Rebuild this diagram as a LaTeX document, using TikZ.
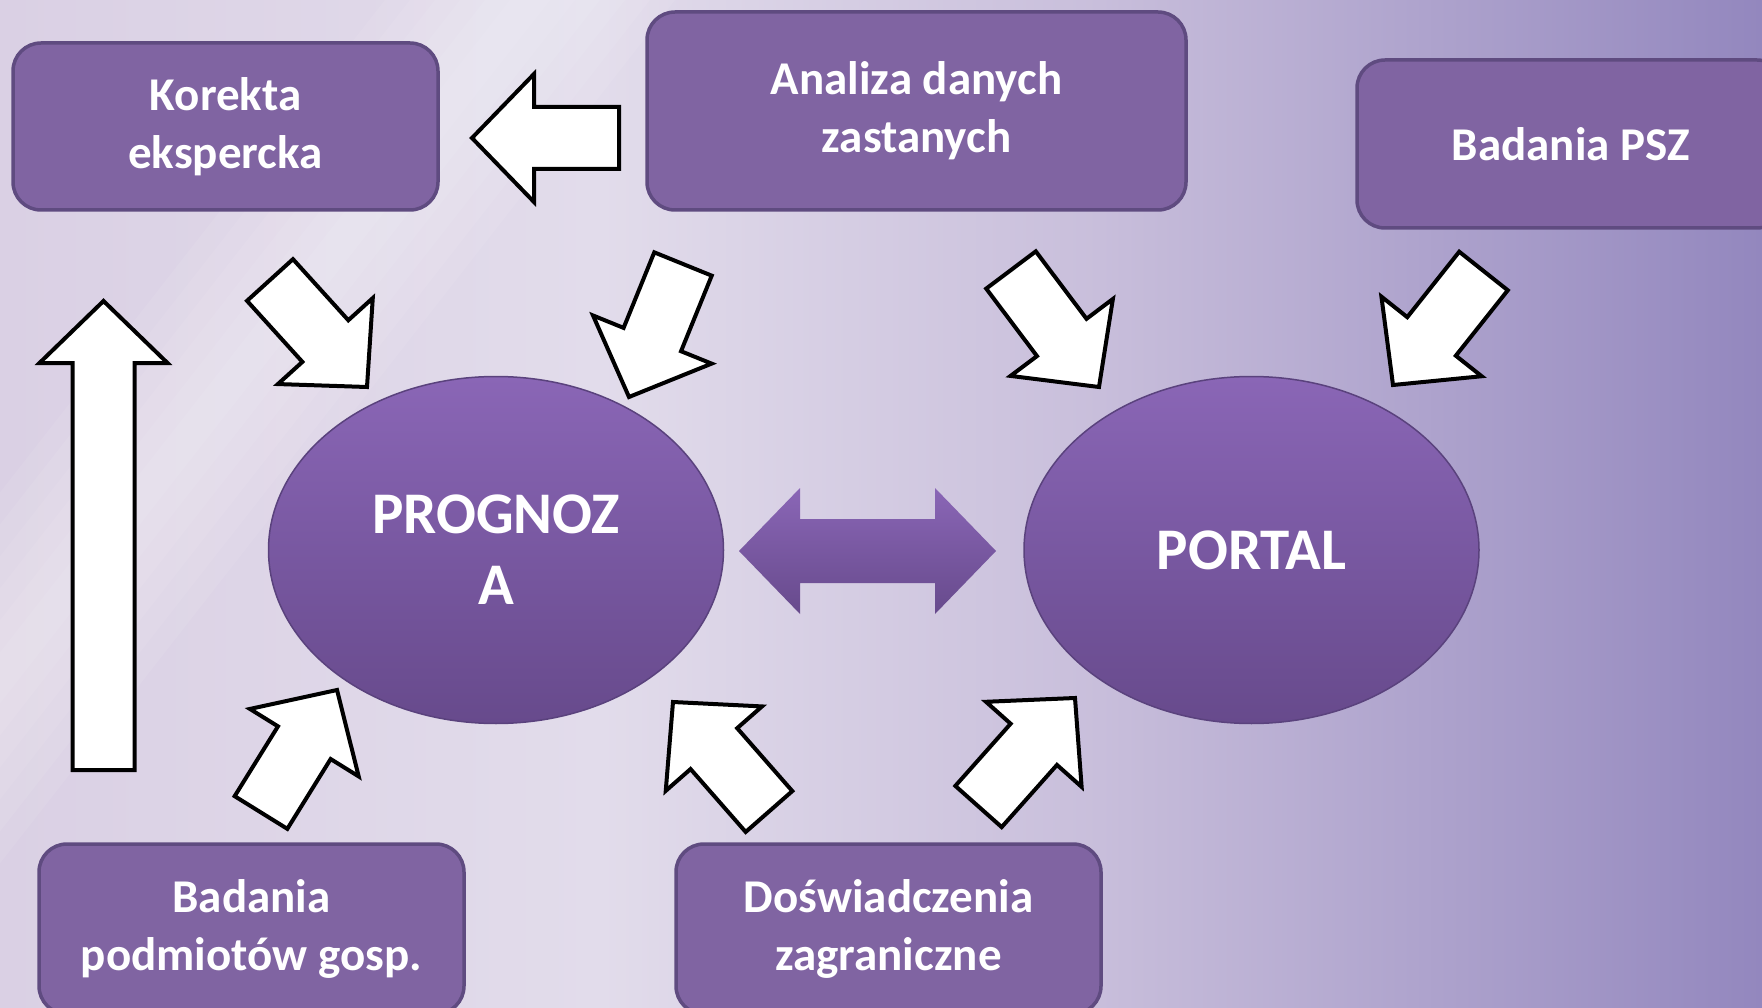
\documentclass[tikz,border=0pt]{standalone}
\usepackage{fontspec}
\setmainfont{Carlito}
\usepackage{tikz}
\usetikzlibrary{shapes.geometric, calc}

\definecolor{boxfill}{HTML}{8064A2}
\definecolor{boxline}{HTML}{5F4B80}
\definecolor{elltop}{HTML}{8A66B6}
\definecolor{ellbot}{HTML}{674A8C}
\definecolor{ellline}{HTML}{5A427D}
\definecolor{bgA}{HTML}{DAD0E4}
\definecolor{bgB}{HTML}{E2DCEB}
\definecolor{bgC}{HTML}{C8BEDB}
\definecolor{bgD}{HTML}{9387BE}

% white block arrow, #1 = tail, #2 = tip
\newcommand{\blockarrow}[2]{%
	\coordinate (headbase) at ($(#2)!62pt!(#1)$);
	\draw [barrow] ($(#1)!31pt!90:(#2)$) -- ($(headbase)!31pt!90:(#2)$) -- ($(headbase)!64pt!90:(#2)$)
		-- (#2) -- ($(headbase)!64pt!-90:(#2)$) -- ($(headbase)!31pt!-90:(#2)$) -- ($(#1)!31pt!-90:(#2)$) -- cycle;}

% purple two-headed arrow between #1 and #2
\newcommand{\dblarrow}[2]{%
	\coordinate (basea) at ($(#1)!61pt!(#2)$);
	\coordinate (baseb) at ($(#2)!61pt!(#1)$);
	\shade [dblarr] (#1) -- ($(basea)!63pt!90:(#2)$) -- ($(basea)!32pt!90:(#2)$) -- ($(baseb)!32pt!-90:(#1)$)
		-- ($(baseb)!63pt!-90:(#1)$) -- (#2) -- ($(baseb)!63pt!90:(#1)$) -- ($(baseb)!32pt!90:(#1)$)
		-- ($(basea)!32pt!-90:(#2)$) -- ($(basea)!63pt!-90:(#2)$) -- cycle;}

\begin{document}
\begin{tikzpicture}[x=1pt, y=-1pt]
	\tikzstyle{box} = [rectangle, rounded corners=28pt, minimum width=425pt, minimum height=167pt, text centered, align=center, draw=boxline, line width=3.5pt, fill=boxfill, text=white, font=\bfseries\fontsize{47}{58}\selectfont]
	\tikzstyle{ellip} = [ellipse, minimum width=455pt, minimum height=347pt, inner sep=0pt, align=center, top color=elltop, bottom color=ellbot, draw=ellline, line width=1.5pt, text=white, font=\bfseries\fontsize{59}{71}\selectfont]
	\tikzstyle{barrow} = [draw=black, line width=4pt, line join=miter, fill=white]
	\tikzstyle{dblarr} = [top color=elltop, bottom color=ellbot]

	% background
	\useasboundingbox (0,0) rectangle (1762,1008);
	\clip (0,0) rectangle (1762,1008);
	\shade [left color=bgA, right color=bgB] (0,0) rectangle (601,1008);
	\shade [left color=bgB, right color=bgC] (600,0) rectangle (1101,1008);
	\shade [left color=bgC, right color=bgD] (1100,0) rectangle (1762,1008);
	% light ray
	\foreach \w in {20,45,70,95,120,145}
		\fill [white, opacity=0.07] (530-\w,0) -- (530+\w,0) -- (-330+\w,1100) -- (-330-\w,1100) -- cycle;

	\node (kor) at (225.5,126.5) [box] {Korekta\\ekspercka};
	\node (anal) at (916.5,111) [box, minimum width=539pt, minimum height=198pt] {Analiza danych\\zastanych};
	\node (psz) at (1571,144) [box, minimum width=428pt, minimum height=168pt] {Badania PSZ};
	\node (podm) at (251.5,929) [box, minimum height=170pt] {Badania\\podmiotów gosp.};
	\node (dosw) at (888.5,929) [box, minimum height=170pt] {Doświadczenia\\zagraniczne};
	\node (prog) at (496,550) [ellip] {PROGNOZ\\A};
	\node (portal) at (1251.5,550) [ellip] {PORTAL};

	% arrow ends
	\coordinate (kor-out) at (270,280);      \coordinate (prog-in1) at (367,387);
	\coordinate (anal-out1) at (683,264);    \coordinate (prog-in2) at (629,397);
	\coordinate (anal-out2) at (1011,270);   \coordinate (portal-in1) at (1099,387);
	\coordinate (psz-out) at (1483.5,271);   \coordinate (portal-in2) at (1393,385);
	\coordinate (podm-out1) at (261,812.5);  \coordinate (prog-in3) at (337,690);
	\coordinate (dosw-out1) at (769,811.5);  \coordinate (prog-in4) at (673,702);
	\coordinate (dosw-out2) at (978.5,806.5); \coordinate (portal-in3) at (1075,698);
	\coordinate (podm-out2) at (103.5,770);  \coordinate (kor-in1) at (103.5,301);
	\coordinate (anal-out3) at (619,138);    \coordinate (kor-in2) at (472,138);
	\coordinate (prog-out) at (739,551);     \coordinate (portal-out) at (996,551);

	\blockarrow{kor-out}{prog-in1}
	\blockarrow{anal-out1}{prog-in2}
	\blockarrow{anal-out2}{portal-in1}
	\blockarrow{psz-out}{portal-in2}
	\blockarrow{podm-out1}{prog-in3}
	\blockarrow{dosw-out1}{prog-in4}
	\blockarrow{dosw-out2}{portal-in3}
	\blockarrow{podm-out2}{kor-in1}
	\blockarrow{anal-out3}{kor-in2}
	\dblarrow{prog-out}{portal-out}

\end{tikzpicture}
\end{document}
